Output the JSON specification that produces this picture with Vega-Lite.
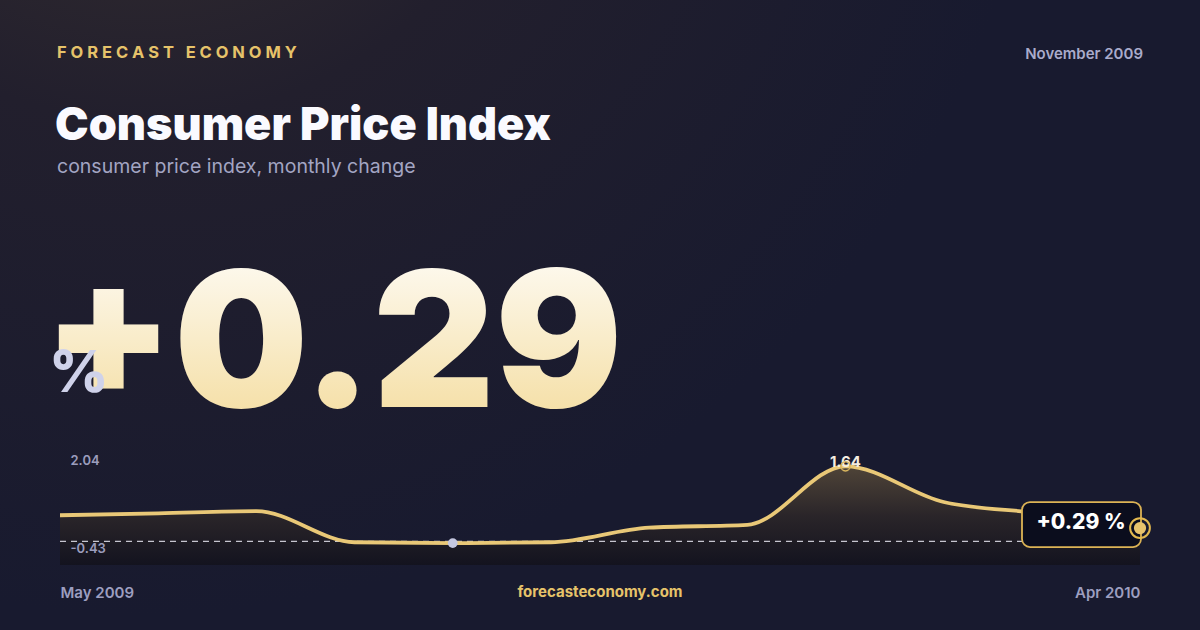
{
  "$schema": "https://vega.github.io/schema/vega-lite/v6.json",
  "width": 1200,
  "height": 630,
  "autosize": {"type": "fit", "contains": "padding"},
  "padding": 0,
  "background": "#181a2f",
  "config": {
    "font": "Inter",
    "view": {
      "stroke": null,
      "fill": {
        "gradient": "radial",
        "x1": 0.12, "y1": 0.0, "r1": 0,
        "x2": 0.12, "y2": 0.0, "r2": 0.75,
        "stops": [
          {"offset": 0, "color": "#3a3230"},
          {"offset": 0.45, "color": "#221f2d"},
          {"offset": 1, "color": "#181a2f"}
        ]
      }
    }
  },
  "data": {
    "values": [
      {"month": "2009-05-01", "value": 0.57},
      {"month": "2009-06-01", "value": 0.61},
      {"month": "2009-07-01", "value": 0.66},
      {"month": "2009-08-01", "value": -0.02},
      {"month": "2009-09-01", "value": -0.04},
      {"month": "2009-10-01", "value": -0.02},
      {"month": "2009-11-01", "value": 0.3},
      {"month": "2009-12-01", "value": 0.36},
      {"month": "2010-01-01", "value": 1.64},
      {"month": "2010-02-01", "value": 0.86},
      {"month": "2010-03-01", "value": 0.61},
      {"month": "2010-04-01", "value": 0.29}
    ]
  },
  "layer": [
    {
      "mark": {
        "type": "area",
        "interpolate": "monotone",
        "fill": {
          "gradient": "linear",
          "x1": 0, "y1": 0, "x2": 0, "y2": 1,
          "stops": [
            {"offset": 0, "color": "#4f4438"},
            {"offset": 0.5, "color": "#2a2529"},
            {"offset": 1, "color": "#13131f"}
          ]
        }
      },
      "encoding": {
        "x": {
          "field": "month",
          "type": "ordinal",
          "scale": {"type": "point", "range": [60, 1140], "padding": 0},
          "axis": {
            "values": ["2009-05-01", "2010-04-01"],
            "labelExpr": "utcFormat(toDate(datum.value), '%b %Y')",
            "labelFlush": true,
            "orient": "bottom",
            "offset": -38,
            "labelBaseline": "middle",
            "labelPadding": 0,
            "labelAngle": 0,
            "ticks": false,
            "tickSize": 0,
            "domain": false,
            "grid": false,
            "title": null,
            "labelFont": "Inter",
            "labelFontSize": 15,
            "labelFontWeight": 600,
            "labelColor": "#9d9fc0",
            "zindex": 1
          }
        },
        "y": {
          "field": "value",
          "type": "quantitative",
          "scale": {"domain": [-0.43, 2.04], "range": [561, 448], "nice": false, "zero": false},
          "axis": {
            "values": [2.04, -0.43],
            "format": ".2f",
            "labelExpr": "replace(datum.label, '\u2212', '-')",
            "orient": "left",
            "offset": -70,
            "labelAlign": "left",
            "labelPadding": 0,
            "labelFlush": true,
            "labelFlushOffset": -6,
            "ticks": false,
            "tickSize": 0,
            "domain": false,
            "grid": false,
            "title": null,
            "labelFont": "Inter",
            "labelFontSize": 13,
            "labelFontWeight": 600,
            "labelColor": "#9b9dbd",
            "zindex": 1
          }
        },
        "y2": {"datum": -0.52}
      }
    },
    {
      "data": {"values": [{"from": "2009-05-01", "to": "2010-04-01", "base": 0}]},
      "mark": {"type": "rule", "stroke": "#e4e4ee", "strokeWidth": 1.2, "strokeDash": [6, 5], "opacity": 0.85},
      "encoding": {
        "x": {"field": "from", "type": "ordinal"},
        "x2": {"field": "to"},
        "y": {"field": "base", "type": "quantitative"}
      }
    },
    {
      "mark": {"type": "line", "interpolate": "monotone", "stroke": "#e9c877", "strokeWidth": 3.8},
      "encoding": {
        "x": {"field": "month", "type": "ordinal"},
        "y": {"field": "value", "type": "quantitative"}
      }
    },
    {
      "transform": [
        {"joinaggregate": [{"op": "min", "field": "value", "as": "mn"}]},
        {"filter": "datum.value === datum.mn"}
      ],
      "mark": {"type": "point", "filled": true, "fill": "#c5c8e0", "size": 95, "opacity": 1},
      "encoding": {
        "x": {"field": "month", "type": "ordinal"},
        "y": {"field": "value", "type": "quantitative"}
      }
    },
    {
      "transform": [
        {"joinaggregate": [{"op": "max", "field": "value", "as": "mx"}]},
        {"filter": "datum.value === datum.mx"}
      ],
      "mark": {"type": "text", "dy": -4, "align": "center", "baseline": "middle", "font": "Inter", "fontSize": 15, "fontWeight": 700, "fill": "#f4ede0"},
      "encoding": {
        "x": {"field": "month", "type": "ordinal"},
        "y": {"field": "value", "type": "quantitative"},
        "text": {"field": "value", "format": ".2f"}
      }
    },
    {
      "transform": [
        {"joinaggregate": [{"op": "max", "field": "value", "as": "mx"}]},
        {"filter": "datum.value === datum.mx"}
      ],
      "mark": {"type": "point", "filled": false, "stroke": "#d8b55e", "strokeWidth": 1.5, "size": 85, "opacity": 1},
      "encoding": {
        "x": {"field": "month", "type": "ordinal"},
        "y": {"field": "value", "type": "quantitative"}
      }
    },
    {
      "transform": [
        {"window": [{"op": "rank", "as": "rk"}], "sort": [{"field": "month", "order": "descending"}]},
        {"filter": "datum.rk === 1"}
      ],
      "mark": {"type": "rect", "fill": "#0b0d1d", "stroke": "#dcb355", "strokeWidth": 1.8, "cornerRadius": 8, "xOffset": -118, "x2Offset": 1, "yOffset": -26, "y2Offset": 19},
      "encoding": {
        "x": {"field": "month", "type": "ordinal"},
        "x2": {"field": "month"},
        "y": {"field": "value", "type": "quantitative"},
        "y2": {"field": "value"}
      }
    },
    {
      "transform": [
        {"window": [{"op": "rank", "as": "rk"}], "sort": [{"field": "month", "order": "descending"}]},
        {"filter": "datum.rk === 1"}
      ],
      "mark": {"type": "text", "dx": -59, "dy": -5, "align": "center", "baseline": "middle", "font": "Inter", "fontSize": 21, "fontWeight": 800, "fill": "#ffffff"},
      "encoding": {
        "x": {"field": "month", "type": "ordinal"},
        "y": {"field": "value", "type": "quantitative"},
        "text": {"value": "+0.29 %"}
      }
    },
    {
      "transform": [
        {"window": [{"op": "rank", "as": "rk"}], "sort": [{"field": "month", "order": "descending"}]},
        {"filter": "datum.rk === 1"}
      ],
      "mark": {"type": "point", "filled": false, "stroke": "#e3b94f", "strokeWidth": 2, "size": 390, "opacity": 1},
      "encoding": {
        "x": {"field": "month", "type": "ordinal"},
        "y": {"field": "value", "type": "quantitative"}
      }
    },
    {
      "transform": [
        {"window": [{"op": "rank", "as": "rk"}], "sort": [{"field": "month", "order": "descending"}]},
        {"filter": "datum.rk === 1"}
      ],
      "mark": {"type": "point", "filled": true, "fill": "#e8c36c", "size": 150, "opacity": 1},
      "encoding": {
        "x": {"field": "month", "type": "ordinal"},
        "y": {"field": "value", "type": "quantitative"}
      }
    },
    {
      "data": {"values": [{"t": "F O R E C A S T \u00a0\u00a0E C O N O M Y"}]},
      "mark": {"type": "text", "align": "left", "baseline": "middle", "font": "Inter", "fontSize": 16.5, "fontWeight": 700, "fill": "#e6c36a"},
      "encoding": {"x": {"value": 57}, "y": {"value": 53}, "text": {"field": "t"}}
    },
    {
      "data": {"values": [{"t": "November 2009"}]},
      "mark": {"type": "text", "align": "right", "baseline": "middle", "font": "Inter", "fontSize": 15, "fontWeight": 600, "fill": "#a9abcb"},
      "encoding": {"x": {"value": 1143}, "y": {"value": 54}, "text": {"field": "t"}}
    },
    {
      "data": {"values": [{"t": "Consumer Price Index"}]},
      "mark": {"type": "text", "align": "left", "baseline": "alphabetic", "font": "Inter", "fontSize": 45, "fontWeight": 900, "fill": "#fafaff"},
      "encoding": {"x": {"value": 55}, "y": {"value": 140}, "text": {"field": "t"}}
    },
    {
      "data": {"values": [{"t": "consumer price index, monthly change"}]},
      "mark": {"type": "text", "align": "left", "baseline": "alphabetic", "font": "Inter", "fontSize": 19.5, "fontWeight": 400, "fill": "#a3a5c3"},
      "encoding": {"x": {"value": 57}, "y": {"value": 173}, "text": {"field": "t"}}
    },
    {
      "transform": [
        {"window": [{"op": "rank", "as": "rk"}], "sort": [{"field": "month", "order": "descending"}]},
        {"filter": "datum.rk === 1"}
      ],
      "mark": {
        "type": "text", "align": "left", "baseline": "alphabetic", "font": "Inter", "fontSize": 189, "fontWeight": 900,
        "fill": {
          "gradient": "linear", "x1": 0, "y1": 0, "x2": 0, "y2": 1,
          "stops": [{"offset": 0, "color": "#ffffff"}, {"offset": 1, "color": "#f3d995"}]
        }
      },
      "encoding": {"x": {"value": 43}, "y": {"value": 407}, "text": {"field": "value", "format": "+.2f"}}
    },
    {
      "data": {"values": [{"t": "%"}]},
      "mark": {"type": "text", "align": "left", "baseline": "alphabetic", "font": "Inter", "fontSize": 58, "fontWeight": 800, "fill": "#cfd2ea"},
      "encoding": {"x": {"value": 49}, "y": {"value": 392}, "text": {"field": "t"}}
    },
    {
      "data": {"values": [{"t": "forecasteconomy.com"}]},
      "mark": {"type": "text", "align": "center", "baseline": "middle", "font": "Inter", "fontSize": 15, "fontWeight": 700, "fill": "#e6c36a"},
      "encoding": {"x": {"value": 600}, "y": {"value": 592}, "text": {"field": "t"}}
    }
  ]
}
